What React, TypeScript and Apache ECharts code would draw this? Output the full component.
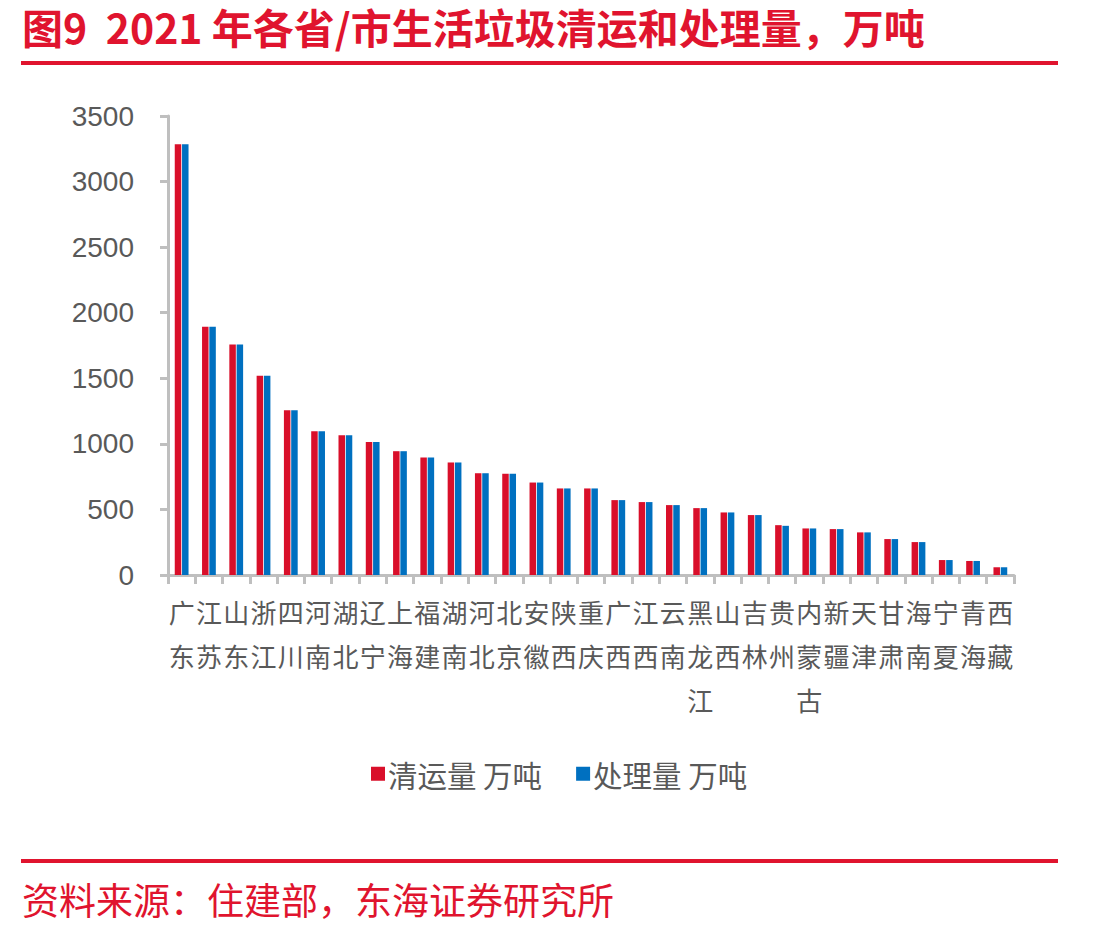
import React, { useEffect, useRef } from "react";
import * as echarts from "echarts";

const provinces = [
  "广东", "江苏", "山东", "浙江", "四川", "河南", "湖北", "辽宁", "上海", "福建",
  "湖南", "河北", "北京", "安徽", "陕西", "重庆", "广西", "江西", "云南", "黑龙江",
  "山西", "吉林", "贵州", "内蒙古", "新疆", "天津", "甘肃", "海南", "宁夏", "青海", "西藏",
];

// 清运量（万吨）
const collected = [
  3285, 1893, 1758, 1520, 1256, 1096, 1065, 1015, 944, 896,
  858, 776, 772, 705, 660, 660, 571, 556, 533, 510,
  477, 457, 380, 355, 350, 325, 274, 251, 114, 107, 59,
];

// 处理量（万吨）
const treated = [
  3285, 1893, 1758, 1520, 1256, 1096, 1065, 1015, 944, 896,
  858, 776, 772, 705, 660, 660, 571, 556, 533, 510,
  477, 457, 375, 355, 350, 325, 274, 251, 114, 107, 59,
];

const yTicks = [0, 500, 1000, 1500, 2000, 2500, 3000, 3500];

const RED = "#D90F2A";
const BLUE = "#0070C0";
const TITLE_RED = "#E0142E";
const AXIS_GREY = "#BFBFBF";
const TEXT_GREY = "#595959";
const CJK = "'Noto Sans CJK SC', 'Noto Sans', sans-serif";

// non-breaking spaces keep the double gap after the figure number in SVG
const TITLE = "图9\u00A0\u00A02021\u00A0年各省/市生活垃圾清运和处理量，万吨";

export default function App() {
  const ref = useRef<HTMLDivElement>(null);

  useEffect(() => {
    document.body.style.margin = "0";
    const chart = echarts.init(ref.current!, null, { renderer: "svg" });
    chart.setOption({
      animation: false,
      backgroundColor: "#ffffff",
      graphic: [
        {
          type: "text",
          x: 22,
          y: 26,
          style: {
            text: TITLE,
            fill: TITLE_RED,
            fontSize: 41,
            fontWeight: "bold",
            fontFamily: CJK,
            verticalAlign: "middle",
          },
        },
        {
          type: "rect",
          shape: { x: 21, y: 61, width: 1037, height: 4 },
          style: { fill: TITLE_RED },
        },
        {
          type: "rect",
          shape: { x: 21, y: 859, width: 1037, height: 4 },
          style: { fill: TITLE_RED },
        },
        {
          type: "text",
          x: 22,
          y: 899,
          style: {
            text: "资料来源：住建部，东海证券研究所",
            fill: TITLE_RED,
            font: `37px ${CJK}`,
            verticalAlign: "middle",
          },
        },
      ],
      legend: {
        left: 366,
        top: 754,
        itemWidth: 14,
        itemHeight: 14,
        itemGap: 34,
        icon: "rect",
        textStyle: { fontSize: 29.5, color: TEXT_GREY, fontFamily: CJK, padding: [0, 0, 0, -2] },
        data: ["清运量 万吨", "处理量 万吨"],
      },
      grid: { left: 168, right: 94, top: 116, bottom: 358, containLabel: false },
      xAxis: {
        type: "category",
        data: provinces,
        axisLine: { show: true, lineStyle: { color: AXIS_GREY, width: 3 } },
        axisTick: { show: true, length: 9, lineStyle: { color: AXIS_GREY, width: 3 } },
        axisLabel: {
          interval: 0,
          margin: 14,
          fontSize: 26,
          lineHeight: 44,
          color: TEXT_GREY,
          fontFamily: CJK,
          formatter: (v: string) => v.split("").join("\n"),
          verticalAlign: "top",
        },
      },
      yAxis: {
        type: "value",
        min: yTicks[0],
        max: yTicks[yTicks.length - 1],
        interval: 500,
        splitLine: { show: false },
        axisLine: { show: true, lineStyle: { color: AXIS_GREY, width: 3 } },
        axisTick: { show: true, length: 8, lineStyle: { color: AXIS_GREY, width: 3 } },
        axisLabel: {
          margin: 34,
          fontSize: 28,
          color: TEXT_GREY,
          fontFamily: "'Liberation Sans', Arial, sans-serif",
          formatter: (v: number) => String(v),
        },
      },
      series: [
        {
          name: "清运量 万吨",
          type: "bar",
          data: collected,
          barWidth: 6.5,
          barGap: "12%",
          itemStyle: { color: RED },
        },
        {
          name: "处理量 万吨",
          type: "bar",
          data: treated,
          barWidth: 6.5,
          itemStyle: { color: BLUE },
        },
      ],
    });
    return () => chart.dispose();
  }, []);

  return (
    <div
      ref={ref}
      style={{ position: "absolute", left: 0, top: 0, width: 1108, height: 933 }}
    />
  );
}
